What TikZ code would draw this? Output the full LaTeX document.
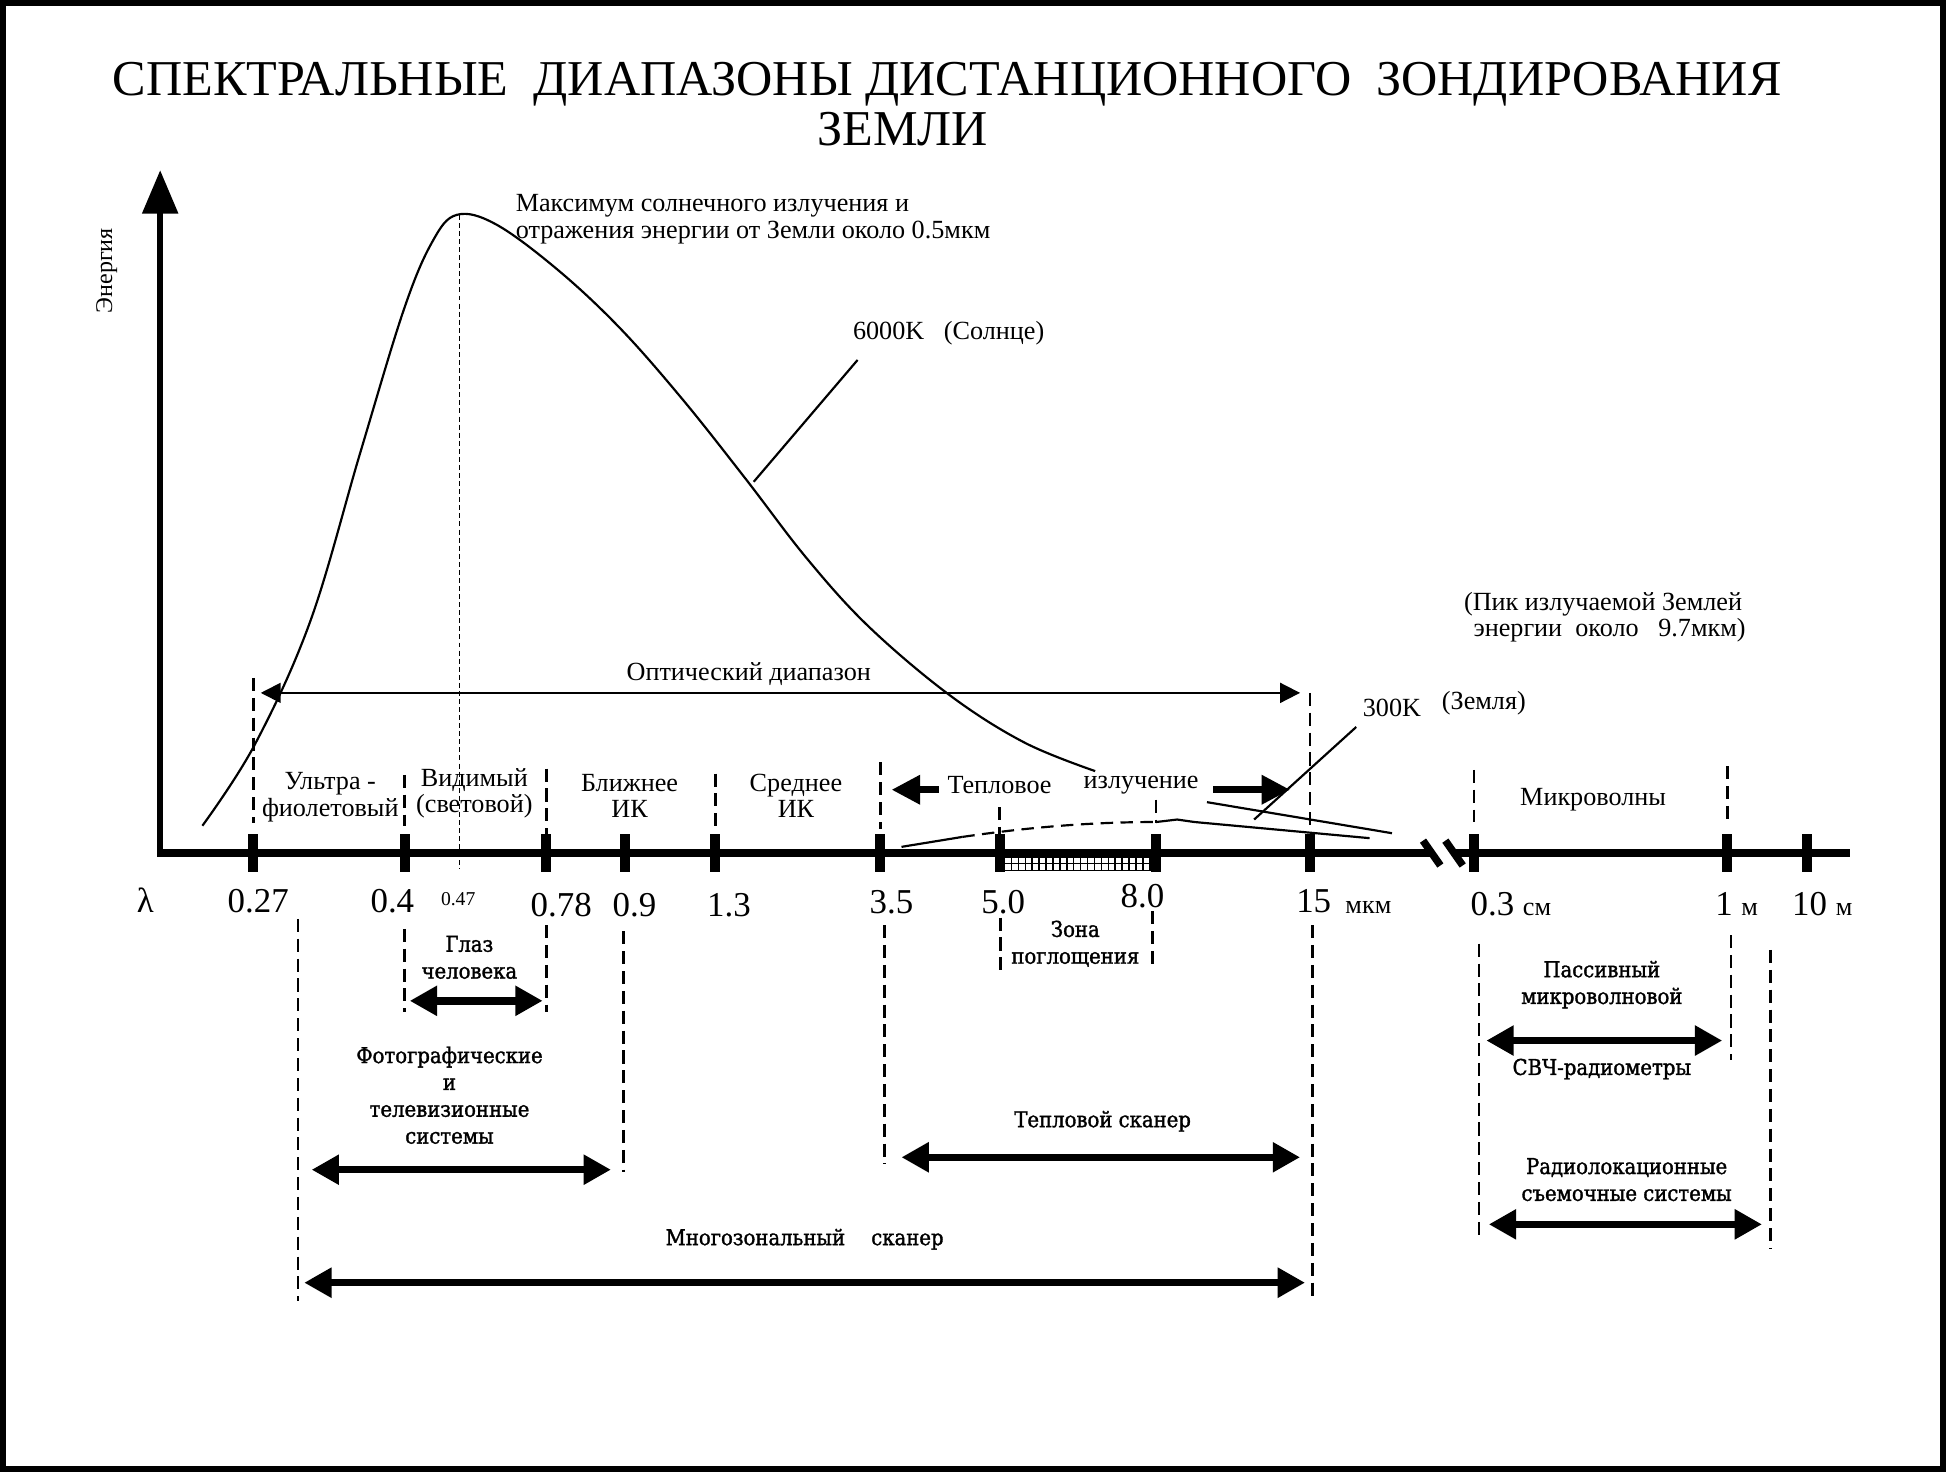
\documentclass[tikz,border=0pt]{standalone}
\usepackage{fontspec}
\setmainfont{Liberation Serif}
\newfontfamily\lowfont{DejaVu Serif}[FakeStretch=0.9, FakeBold=1.5]
\usetikzlibrary{arrows.meta, positioning}

\begin{document}
\begin{tikzpicture}[x=0.02cm, y=-0.02cm,
    txt/.style={font=\fontsize{12}{12}\selectfont, align=center, inner sep=0pt},
    sys/.style={font=\lowfont\fontsize{10}{12.3}\selectfont, align=center, inner sep=0pt},
    num/.style={font=\fontsize{16}{16}\selectfont, inner sep=0pt, anchor=base},
    unitsz/.style={font=\fontsize{12}{12}\selectfont, inner sep=0pt, anchor=base},
    tick/.style={fill=black, minimum width=0.16cm, minimum height=0.62cm, inner sep=0pt},
    guide/.style={line width=0.045cm, dash pattern=on 0.21cm off 0.11cm},
    curve/.style={line width=0.035cm},
    fat/.style={line width=0.12cm, {Triangle[length=0.44cm,width=0.46cm]}-{Triangle[length=0.44cm,width=0.46cm]}},
    fatone/.style={line width=0.11cm, -{Triangle[length=0.46cm,width=0.45cm]}},
    optarrow/.style={line width=0.03cm, {Triangle[length=0.32cm,width=0.32cm]}-{Triangle[length=0.32cm,width=0.32cm]}}
]
\useasboundingbox (0,0) rectangle (1568,1186);
\draw[line width=0.1cm] (2,2) rectangle (1565,1183);

% Title
\node[font=\fontsize{23}{23}\selectfont, inner sep=0pt, anchor=base] (title) at (763,77)
    {СПЕКТРАЛЬНЫЕ\ \ ДИАПАЗОНЫ ДИСТАНЦИОННОГО\ \ ЗОНДИРОВАНИЯ};
\node[font=\fontsize{23}{23}\selectfont, inner sep=0pt, anchor=base] (title2) at (727,117) {ЗЕМЛИ};

% Axes
\coordinate (origin) at (129,690);
\coordinate (ytop) at (129,137);
\draw[line width=0.1cm, -{Triangle[length=0.7cm,width=0.56cm]}] (origin) -- (ytop);
\node[txt, rotate=90, font=\fontsize{11}{11}\selectfont] (energy) at (86,218) {Энергия};
\draw[line width=0.12cm] (127,687) -- (1153,687);
\draw[line width=0.12cm] (1172,687) -- (1490,687);
\draw[line width=0.12cm] (1146,677) -- (1160,697);
\draw[line width=0.12cm] (1164,677) -- (1178,697);
\foreach \x [count=\i] in {204,326,440,503,576,709,805,931,1055,1187,1391,1455}
    \node[tick] (tk\i) at (\x,687) {};

% Absorption zone
\draw[line width=0.025cm] (809,690) rectangle (926,701);
\draw[line width=0.025cm] (809,695.5) -- (926,695.5);
\foreach \i in {1,...,20}
    \draw[line width=0.025cm] ({809+\i*5.57},690) -- ({809+\i*5.57},701);

% Tick labels
\node[num] (lam) at (117,735) {λ};
\node[num] (l027) at (208,735) {0.27};
\node[num] (l04) at (316,735) {0.4};
\node[num, font=\fontsize{9}{9}\selectfont] (l047) at (369,729) {0.47};
\node[num] (l078) at (452,738) {0.78};
\node[num] (l09) at (511,738) {0.9};
\node[num] (l13) at (587,738) {1.3};
\node[num] (l35) at (718,736) {3.5};
\node[num] (l50) at (808,736) {5.0};
\node[num] (l80) at (920,731) {8.0};
\node[num] (l15) at (1058,735) {15};
\node[unitsz] (lmkm) at (1102,736) {мкм};
\node[num, anchor=base west] (l03) at (1184,737) {0.3 {\fontsize{12}{12}\selectfont см}};
\node[num, anchor=base west] (l1m) at (1381,737) {1 {\fontsize{12}{12}\selectfont м}};
\node[num, anchor=base west] (l10m) at (1443,737) {10 {\fontsize{12}{12}\selectfont м}};

% Guides above the axis
\foreach \x/\ya/\yb in {204/546/663, 326/624/665, 440/619/674, 576/623/668, 709/614/668,
        805/650/674, 931/644/663, 1055/558/668, 1187/620/662, 1391/617/663}
    \draw[guide] (\x,\ya) -- (\x,\yb);
% Guides below the axis
\foreach \x/\ya/\yb in {240/740/1048, 326/748/815, 440/745/815, 502/750/944, 712/745/937,
        806/739/781, 928/734/778, 1057/745/1047, 1191/760/998, 1394/753/854, 1426/765/1005}
    \draw[guide] (\x,\ya) -- (\x,\yb);
\draw[line width=0.015cm, dash pattern=on 0.08cm off 0.05cm] (370,173) -- (370,700);

% Sun curve (6000K)
\draw[curve] plot[smooth, tension=0.6] coordinates {(163,665) (205,600) (250,500) (290,365)
    (325,250) (348,195) (368,173) (400,181) (450,218) (500,265) (550,322) (600,385)
    (650,450) (700,505) (765,560) (825,598) (882,621)};
\node[txt, anchor=west, align=left] (maxlbl) at (415,176.5)
    {Максимум солнечного излучения и\\отражения энергии от Земли около 0.5мкм};
\node[txt] (sunlbl) at (764,268) {6000K\ \ \ (Солнце)};
\coordinate (sunpt) at (607,388);
\draw[curve] ([shift={(4,12)}]sunlbl.south west) -- (sunpt);

% Earth curve (300K)
\draw[curve] (726,682) -- (775,674);
\draw[curve, dash pattern=on 0.2cm off 0.12cm] (775,674) .. controls (830,666) and (880,662) .. (931,662);
\draw[curve] (931,662) -- (948,660) -- (962,662) -- (1103,675);
\draw[curve] (972,646) -- (1121,671);
\node[txt] (e300) at (1121,570) {300K};
\node[txt] (earthlbl) at (1195,566) {(Земля)};
\coordinate (earthpt) at (1010,660);
\draw[curve] ([shift={(-5,8)}]e300.south west) -- (earthpt);
\node[txt] (peaklbl) at (1291,497) {(Пик излучаемой Землей\\\ \ энергии\ \ около\ \ \ 9.7мкм)};

% Optical range
\coordinate (optL) at (210,558);
\coordinate (optR) at (1047,558);
\draw[optarrow] (optL) -- (optR);
\node[txt] (optlbl) at (603,543) {Оптический диапазон};

% Region names
\node[txt] (uv) at (266,642) {Ультра -\\фиолетовый};
\node[txt] (vis) at (382,639) {Видимый\\(световой)};
\node[txt] (nir) at (507,641) {Ближнее\\ИК};
\node[txt] (mir) at (641,641) {Среднее\\ИК};
\node[txt] (mw) at (1283,644) {Микроволны};
\node[txt] (th1) at (805,632) {Тепловое};
\node[txt] (th2) at (919,632) {излучение};
\coordinate (thL1) at (756,636);
\coordinate (thL2) at (718,636);
\coordinate (thR1) at (977,636);
\coordinate (thR2) at (1039,636);
\draw[fatone] (thL1) -- (thL2);
\draw[fatone] (thR1) -- (thR2);

% Sensor systems
\node[sys] (eye) at (378,771) {Глаз\\человека};
\coordinate (eyeL) at (330,806);
\coordinate (eyeR) at (437,806);
\draw[fat] (eyeL) -- (eyeR);

\node[sys] (photo) at (362,882) {Фотографические\\и\\телевизионные\\системы};
\coordinate (phL) at (251,942);
\coordinate (phR) at (492,942);
\draw[fat] (phL) -- (phR);

\node[sys] (zone) at (866,760) {Зона\\поглощения};

\node[sys] (thscan) at (888,903) {Тепловой сканер};
\coordinate (tsL) at (726,932);
\coordinate (tsR) at (1047,932);
\draw[fat] (tsL) -- (tsR);

\node[sys] (multi) at (648,998) {Многозональный\hspace{1.2em}сканер};
\coordinate (msL) at (245,1033);
\coordinate (msR) at (1051,1033);
\draw[fat] (msL) -- (msR);

\node[sys] (passive) at (1290,793) {Пассивный\\микроволновой};
\coordinate (pvL) at (1197,838);
\coordinate (pvR) at (1387,838);
\draw[fat] (pvL) -- (pvR);
\node[sys] (shf) at (1290,861) {СВЧ-радиометры};

\node[sys] (radar) at (1310,950) {Радиолокационные\\съемочные системы};
\coordinate (rdL) at (1199,986);
\coordinate (rdR) at (1419,986);
\draw[fat] (rdL) -- (rdR);
\end{tikzpicture}
\end{document}
